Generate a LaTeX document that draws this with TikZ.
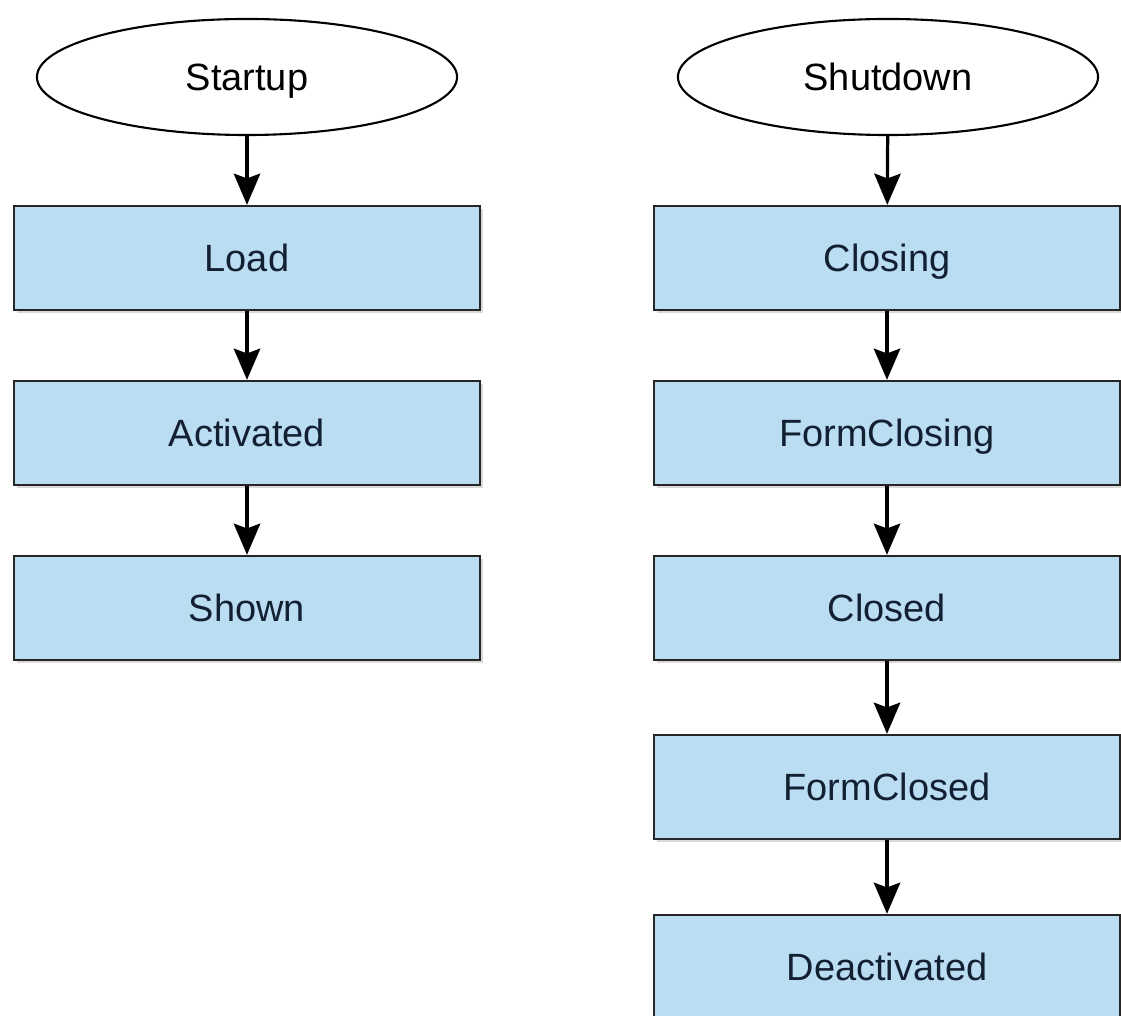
\documentclass[tikz,border=0pt]{standalone}
\usepackage{fontspec}
\setmainfont{Liberation Sans}
\usetikzlibrary{shapes.geometric,arrows.meta,shadows}

\definecolor{cajaazul}{RGB}{186,221,242}
\definecolor{textoazul}{RGB}{18,32,50}

\tikzset{
  evento/.style={ellipse, draw=black, line width=1.5pt, fill=white,
    minimum width=10.5cm, minimum height=2.9cm, text height=19.5pt, text depth=0pt,
    font=\fontsize{27}{32}\selectfont},
  paso/.style={rectangle, draw=black!85, line width=1.6pt, fill=cajaazul,
    minimum width=11.65cm, minimum height=2.6cm, text=textoazul,
    text height=19.5pt, text depth=0pt,
    font=\fontsize{27}{32}\selectfont,
    drop shadow={shadow xshift=0.07cm, shadow yshift=-0.07cm, opacity=0.3}},
  flecha/.style={line width=2.3pt, -{Stealth[length=0.78cm, width=0.66cm, inset=0.12cm]}}
}

\begin{document}
\begin{tikzpicture}[x=0.025cm, y=-0.025cm]
  \useasboundingbox (0,0) rectangle (1121,1016);
  %——————————————————————————————————————————————
  % Arranque: Startup y sus eventos
  %——————————————————————————————————————————————
  \node[evento] (startup) at (247,77) {Startup};
  \node[paso] (load) at (247,258) {Load};
  \node[paso] (activated) at (247,433) {Activated};
  \node[paso] (shown) at (247,608) {Shown};

  \draw[flecha] (startup) -- (load);
  \draw[flecha] (load) -- (activated);
  \draw[flecha] (activated) -- (shown);

  %——————————————————————————————————————————————
  % Cierre: Shutdown y sus eventos
  %——————————————————————————————————————————————
  \node[evento] (shutdown) at (888,77) {Shutdown};
  \node[paso] (closing) at (887,258) {Closing};
  \node[paso] (formclosing) at (887,433) {FormClosing};
  \node[paso] (closed) at (887,608) {Closed};
  \node[paso] (formclosed) at (887,787) {FormClosed};
  \node[paso] (deactivated) at (887,967) {Deactivated};

  \draw[flecha] (shutdown) -- (closing);
  \draw[flecha] (closing) -- (formclosing);
  \draw[flecha] (formclosing) -- (closed);
  \draw[flecha] (closed) -- (formclosed);
  \draw[flecha] (formclosed) -- (deactivated);
\end{tikzpicture}
\end{document}
